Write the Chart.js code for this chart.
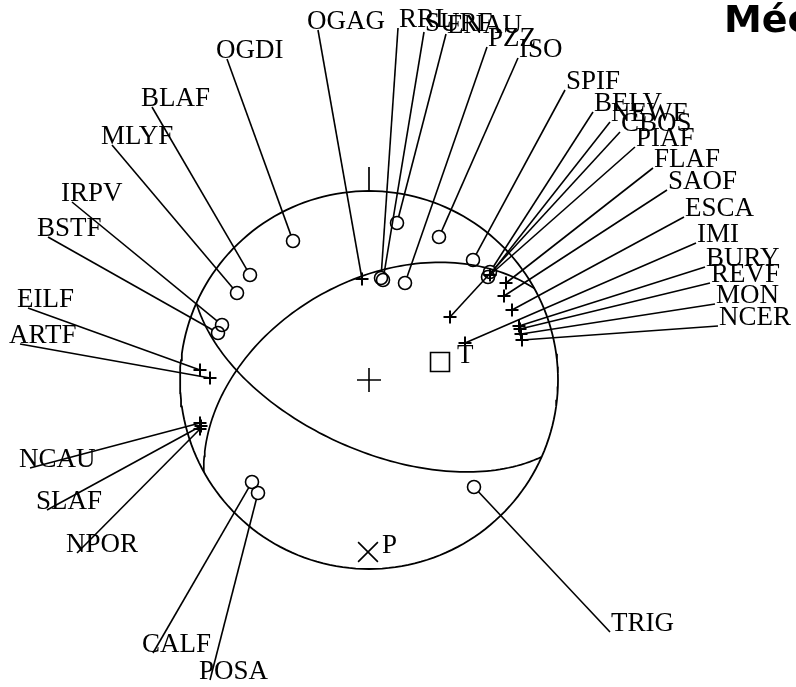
<!DOCTYPE html>
<html>
<head>
<meta charset="utf-8">
<script src="https://cdn.jsdelivr.net/npm/chart.js@4.4.1/dist/chart.umd.min.js"></script>
<style>
  html, body { margin: 0; padding: 0; background: #fff; }
  #wrap { position: relative; width: 796px; height: 687px; overflow: hidden; }
</style>
</head>
<body>
<div id="wrap"><canvas id="chart" width="796" height="687"></canvas></div>
<script>
// Focal mechanism, lower hemisphere equal-area net (net radius = 189 units)
const netRadius = 189;

// Nodal planes
const planeStrike = [241, 114];
const planeDip = [47, 60];

// Stations: C = compression (circle), D = dilatation (cross)
const stations = ['OGDI','BLAF','MLYF','IRPV','BSTF','EILF','ARTF','NCAU','SLAF','NPOR','CALF','POSA','OGAG',
  'RRL','SURF','ENAU','PZZ','ISO','SPIF','BELV','NEWF','CBOS','PIAF','FLAF','SAOF','ESCA','IMI','BURY','REVF','MON','NCER','TRIG'];
const polarity = ['C','C','C','C','C','D','D','D','D','D','C','C','D',
  'C','C','C','C','C','C','C','C','D','D','D','D','D','D','D','D','D','D','C'];
const stationX = [-76,-119,-132,-147,-151,-169,-159,-169,-168,-169,-117,-111,-7,
  12,14,28,36,70,104,121,119,81,121,137,135,143,96,150,151,152,153,105];
const stationY = [139,105,87,55,47,10,2,-43,-46,-49,-102,-113,101,
  102,100,157,97,143,120,108,103,63,105,97,84,70,37,54,51,46,40,-107];
// leader line end (label anchor)
const labelX = [-142,-217,-257,-297,-321,-341,-349,-339,-322,-292,-216,-159,-51,
  29,55,77,118,149,196,224,241,251,266,284,298,315,327,336,341,346,349,241];
const labelY = [321,273,235,178,143,72,36,-88,-130,-173,-273,-300,350,
  352,348,346,333,322,290,268,258,248,233,212,190,163,137,113,97,76,54,-252];

// P and T axes
const axisNames = ['T','P'];
const axisX = [71, -1];
const axisY = [18, -172];
const axisLabelX = [88, 13];
const axisLabelY = [17, -173];

const title = 'Mécanisme au foyer';

// --- geometry helpers ---
function primitive() {
  const pts = [];
  for (let a = 0; a <= 360; a += 2) {
    const t = a * Math.PI / 180;
    pts.push({x: netRadius * Math.sin(t), y: netRadius * Math.cos(t)});
  }
  return pts;
}

function planeTrace(strike, dip) {
  const s = strike * Math.PI / 180, d = dip * Math.PI / 180;
  const pts = [];
  for (let i = 0; i <= 180; i += 2) {
    const l = i * Math.PI / 180;
    const e = Math.cos(l) * Math.sin(s) + Math.sin(l) * Math.cos(d) * Math.cos(s);
    const n = Math.cos(l) * Math.cos(s) - Math.sin(l) * Math.cos(d) * Math.sin(s);
    const down = Math.sin(l) * Math.sin(d);
    const h = Math.hypot(e, n);
    const r = netRadius * Math.sqrt(1 - down);
    pts.push(h < 1e-9 ? {x: 0, y: 0} : {x: r * e / h, y: r * n / h});
  }
  return pts;
}

const lineStyle = {showLine: true, pointRadius: 0, borderColor: '#000', borderWidth: 1.7, fill: false, tension: 0};

const datasets = [
  {...lineStyle, data: primitive(), borderWidth: 1.8},
  {...lineStyle, data: [{x: 0, y: netRadius}, {x: 0, y: netRadius + 24}]},
  ...planeStrike.map((s, i) => ({...lineStyle, data: planeTrace(s, planeDip[i])}))
];

// leader lines, stopping at the edge of open circles
stations.forEach((name, i) => {
  let sx = stationX[i], sy = stationY[i];
  if (polarity[i] === 'C') {
    const dx = labelX[i] - sx, dy = labelY[i] - sy, len = Math.hypot(dx, dy);
    sx += 6.5 * dx / len; sy += 6.5 * dy / len;
  }
  datasets.push({...lineStyle, borderWidth: 1.6, data: [{x: sx, y: sy}, {x: labelX[i], y: labelY[i]}]});
});

const pick = p => stations.map((n, i) => ({x: stationX[i], y: stationY[i], p: polarity[i]})).filter(o => o.p === p);

datasets.push({
  data: pick('C'), showLine: false, pointStyle: 'circle', pointRadius: 6.5,
  pointBorderWidth: 1.6, pointBorderColor: '#000', pointBackgroundColor: 'rgba(0,0,0,0)'
});
datasets.push({
  data: pick('D'), showLine: false, pointStyle: 'cross', pointRadius: 6.5,
  pointBorderWidth: 2, pointBorderColor: '#000'
});
// centre
datasets.push({data: [{x: 0, y: 0}], showLine: false, pointStyle: 'cross', pointRadius: 12, pointBorderWidth: 1.6, pointBorderColor: '#000'});
// T axis
datasets.push({data: [{x: axisX[0], y: axisY[0]}], showLine: false, pointStyle: 'rect', pointRadius: 13.4,
  pointBorderWidth: 1.6, pointBorderColor: '#000', pointBackgroundColor: 'rgba(0,0,0,0)'});
// P axis
datasets.push({data: [{x: axisX[1], y: axisY[1]}], showLine: false, pointStyle: 'crossRot', pointRadius: 14,
  pointBorderWidth: 1.6, pointBorderColor: '#000'});

const textPlugin = {
  id: 'stationText',
  afterDatasetsDraw(chart) {
    const {ctx, scales: {x, y}} = chart;
    ctx.save();
    ctx.fillStyle = '#000';
    ctx.textBaseline = 'alphabetic';
    ctx.font = '27px "Liberation Serif"';
    stations.forEach((name, i) => {
      const px = x.getPixelForValue(labelX[i]), py = y.getPixelForValue(labelY[i]);
      ctx.fillText(name, labelX[i] < 0 ? px - 11 : px + 1, py - 1);
    });
    axisNames.forEach((t, i) => {
      ctx.fillText(t, x.getPixelForValue(axisLabelX[i]), y.getPixelForValue(axisLabelY[i]));
    });
    ctx.font = 'bold 38px "DejaVu Sans"';
    ctx.fillText(title, 724, 32);
    ctx.restore();
  }
};

new Chart(document.getElementById('chart'), {
  type: 'scatter',
  data: {datasets},
  options: {
    responsive: false,
    animation: false,
    events: [],
    layout: {padding: 0, autoPadding: false},
    plugins: {legend: {display: false}, tooltip: {enabled: false}},
    scales: {
      x: {type: 'linear', min: -369, max: 427, display: false},
      y: {type: 'linear', min: -307, max: 380, display: false}
    }
  },
  plugins: [textPlugin]
});
</script>
</body>
</html>
